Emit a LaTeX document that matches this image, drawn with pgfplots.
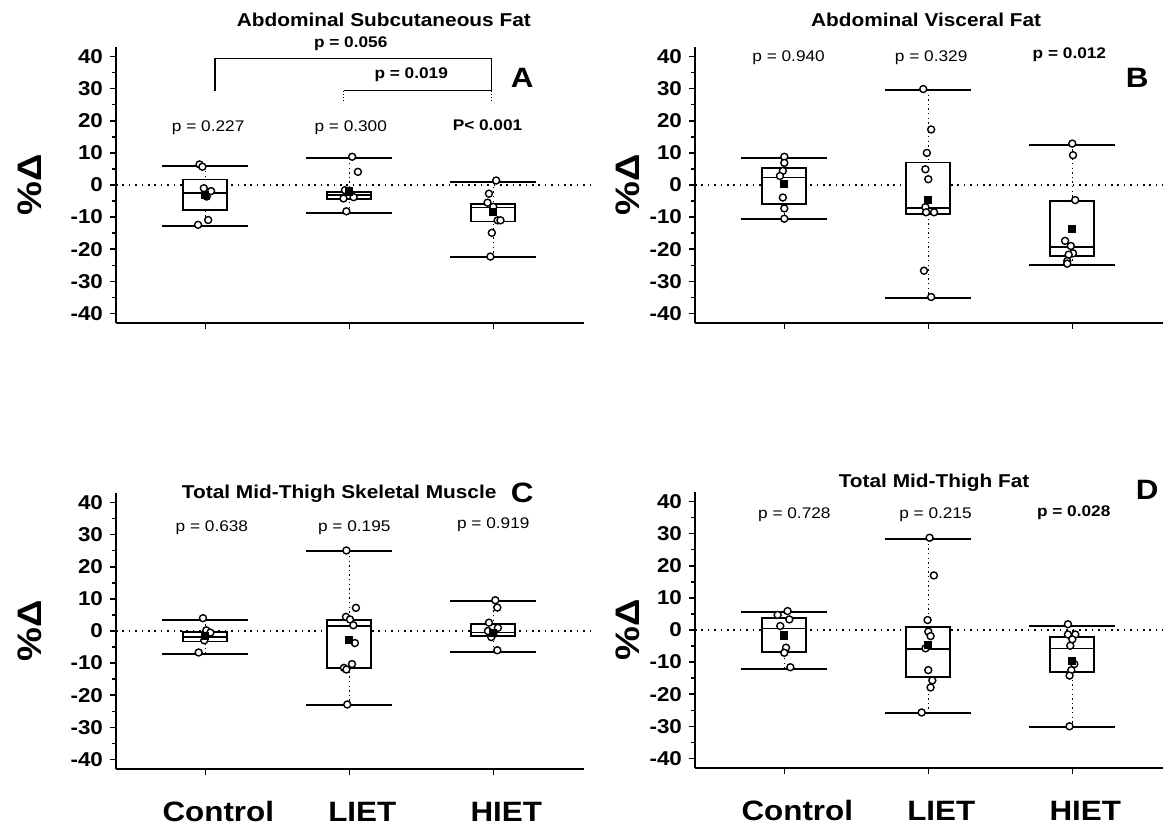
\documentclass[border=0pt]{standalone}
\usepackage{fontspec}
\setmainfont{Liberation Sans}[FakeStretch=1.12]
\usepackage{pgfplots}
\pgfplotsset{compat=1.18}
\usepgfplotslibrary{statistics}

\pgfplotsset{
  panel/.style={
    scale only axis, width=234pt, height=138pt,
    xmin=-0.62, xmax=2.63, ymin=-43, ymax=43,
    axis x line*=bottom, axis y line*=left,
    xtick={0,1,2}, xticklabels={},
    ytick={-40,-30,...,40}, yticklabels={-40,-30,-20,-10,0,10,20,30,40},
    minor y tick num=1, tick align=outside,
    major tick length=3pt, minor tick length=2pt,
    every tick/.style={black, line width=0.7pt},
    axis line style={line width=0.9pt},
    yticklabel style={font=\bfseries\fontsize{10}{12}\selectfont},
    xticklabel style={font=\bfseries\fontsize{14}{17}\selectfont, anchor=base, yshift=-23pt, xshift=6.5pt},
    clip=false,
    ylabel={\%Δ},
    every axis y label/.style={rotate=90, anchor=center, font=\bfseries\fontsize{17}{20}\selectfont},
  },
  boxplot/draw direction=y,
  boxplot/box extend=0.305,
  boxplot/whisker extend=0.6,
  boxplot/every box/.style={fill=white},
  boxplot/draw/lower whisker/.code={%
    \draw[black, line width=0.7pt, dash pattern=on 0.7pt off 1.6pt]
      (boxplot box cs:\pgfplotsboxplotvalue{lower whisker},0.5) -- (boxplot box cs:\pgfplotsboxplotvalue{lower quartile},0.5);
    \draw[black, line width=1pt]
      (boxplot whisker cs:\pgfplotsboxplotvalue{lower whisker},0) -- (boxplot whisker cs:\pgfplotsboxplotvalue{lower whisker},1);
  },
  boxplot/draw/upper whisker/.code={%
    \draw[black, line width=0.7pt, dash pattern=on 0.7pt off 1.6pt]
      (boxplot box cs:\pgfplotsboxplotvalue{upper whisker},0.5) -- (boxplot box cs:\pgfplotsboxplotvalue{upper quartile},0.5);
    \draw[black, line width=1pt]
      (boxplot whisker cs:\pgfplotsboxplotvalue{upper whisker},0) -- (boxplot whisker cs:\pgfplotsboxplotvalue{upper whisker},1);
  },
}
\tikzset{
  pv/.style={font=\fontsize{7.7}{9}\selectfont, inner sep=0pt},
  pvb/.style={font=\bfseries\fontsize{7.7}{9}\selectfont, inner sep=0pt},
  ttl/.style={font=\bfseries\fontsize{9.3}{11}\selectfont, inner sep=0pt},
  letter/.style={font=\bfseries\fontsize{14}{16}\selectfont, inner sep=0pt},
}
% position, lower whisker, lower quartile, median, upper quartile, upper whisker
\newcommand{\bx}[6]{\addplot[black, line width=0.85pt, boxplot prepared={draw position=#1,
  lower whisker=#2, lower quartile=#3, median=#4, upper quartile=#5, upper whisker=#6}] coordinates {};}
\newcommand{\zeroline}{\addplot[black, line width=0.8pt, dash pattern=on 0.8pt off 2.4pt] coordinates {(-0.62,0) (2.67,0)};}
\pgfplotsset{pts/.style={only marks, mark=*, mark size=1.75pt, mark options={draw=black, fill=white, line width=0.7pt}},
  mn/.style={only marks, mark=square*, mark size=1.8pt, black}}

\begin{document}
\begin{tikzpicture}
\useasboundingbox (0,0) rectangle (581.5pt,413pt);

% ---- A ----
\begin{axis}[panel, at={(58pt,251.5pt)}, anchor=south west,
  every axis y label/.append style={at={(axis description cs:-0.185,0.5)}}]
\zeroline
\bx{0}{-12.8}{-7.75}{-2.6}{1.75}{5.8}
\bx{1}{-8.6}{-4.4}{-3.2}{-2.2}{8.3}
\bx{2}{-22.5}{-11.4}{-7.0}{-5.9}{0.9}
\addplot[pts] coordinates {(-0.04,6.4) (-0.02,5.7) (-0.01,-1.0) (0.04,-1.9) (0.01,-3.6) (0.02,-10.9) (-0.05,-12.4)};
\addplot[pts] coordinates {(1.02,8.8) (1.06,4.1) (0.97,-1.6) (0.96,-4.2) (1.03,-3.8) (0.98,-8.2)};
\addplot[pts] coordinates {(2.02,1.4) (1.97,-2.7) (1.96,-5.5) (2.0,-6.8) (2.03,-11.0) (2.05,-11.0) (1.99,-14.9) (1.98,-22.3)};
\addplot[mn] coordinates {(0,-3.0) (1,-2.0) (2,-8.4)};
% comparison brackets
\addplot[black, line width=0.6pt] coordinates {(0.067,29.3) (0.067,39.4) (1.99,39.4) (1.99,29.5)};
\addplot[black, line width=0.6pt] coordinates {(0.96,29.5) (1.99,29.5)};
\addplot[black, line width=0.5pt, densely dotted] coordinates {(0.96,26.2) (0.96,29.5)};
\addplot[black, line width=0.5pt, densely dotted] coordinates {(1.99,26.2) (1.99,29.5)};
\node[ttl] at (axis cs:1.24,51.6) {Abdominal Subcutaneous Fat};
\node[pvb] at (axis cs:1.01,43.9) {p = 0.056};
\node[pvb] at (axis cs:1.43,34.5) {p = 0.019};
\node[letter] at (axis cs:2.2,33.4) {A};
\node[pv] at (axis cs:0.02,17.9) {p = 0.227};
\node[pv] at (axis cs:1.01,17.9) {p = 0.300};
\node[pvb] at (axis cs:1.96,18.7) {P< 0.001};
\end{axis}

% ---- B ----
\begin{axis}[panel, at={(347.5pt,251.5pt)}, anchor=south west,
  every axis y label/.append style={at={(axis description cs:-0.143,0.5)}}]
\zeroline
\bx{0}{-10.7}{-6.0}{2.3}{5.4}{8.3}
\bx{1}{-35.3}{-9.0}{-7.1}{7.0}{29.6}
\bx{2}{-25.0}{-22.1}{-19.3}{-4.9}{12.6}
\addplot[pts] coordinates {(0,8.8) (0,6.9) (-0.01,4.4) (-0.03,2.8) (-0.01,-3.9) (0,-7.3) (0,-10.5)};
\addplot[pts] coordinates {(0.965,29.9) (1.02,17.3) (0.99,10.0) (0.98,4.9) (1.0,1.8) (0.98,-6.9) (0.985,-8.5) (1.04,-8.5) (0.97,-26.7) (1.02,-34.9)};
\addplot[pts] coordinates {(2.0,12.9) (2.005,9.3) (2.02,-4.7) (1.95,-17.4) (1.99,-19.0) (2.005,-21.3) (1.975,-21.7) (1.965,-23.7) (1.965,-24.5)};
\addplot[mn] coordinates {(0,0.4) (1,-4.7) (2,-13.6)};
\node[ttl] at (axis cs:0.985,51.6) {Abdominal Visceral Fat};
\node[pv] at (axis cs:0.03,39.6) {p = 0.940};
\node[pv] at (axis cs:1.02,39.6) {p = 0.329};
\node[pvb] at (axis cs:1.98,40.5) {p = 0.012};
\node[letter] at (axis cs:2.45,33.4) {B};
\end{axis}

% ---- C ----
\begin{axis}[panel, at={(58pt,28.5pt)}, anchor=south west,
  xticklabels={Control,LIET,HIET},
  every axis y label/.append style={at={(axis description cs:-0.185,0.5)}}]
\zeroline
\bx{0}{-7.1}{-3.3}{-1.9}{-0.3}{3.5}
\bx{1}{-23.2}{-11.5}{1.6}{3.5}{24.8}
\bx{2}{-6.4}{-1.6}{-0.5}{2.1}{9.3}
\addplot[pts] coordinates {(-0.016,4.0) (0.007,0.2) (0.035,-0.5) (0,-1.6) (-0.007,-2.9) (-0.046,-6.7)};
\addplot[pts] coordinates {(0.98,25.1) (1.046,7.2) (0.977,4.4) (1.005,3.6) (1.028,1.8) (1.039,-3.75) (1.019,-10.3) (0.963,-11.5) (0.98,-12.0) (0.986,-22.9)};
\addplot[pts] coordinates {(2.014,9.6) (2.028,7.3) (1.97,2.6) (2.032,1.0) (1.963,0) (2.0,-1.0) (1.986,-1.9) (2.028,-6.0)};
\addplot[mn] coordinates {(0,-1.5) (1,-2.7) (2,-0.5)};
\node[ttl] at (axis cs:0.93,42.7) {Total Mid-Thigh Skeletal Muscle};
\node[letter] at (axis cs:2.2,43.2) {C};
\node[pv] at (axis cs:0.046,32.3) {p = 0.638};
\node[pv] at (axis cs:1.035,32.3) {p = 0.195};
\node[pv] at (axis cs:2.0,33.1) {p = 0.919};
\end{axis}

% ---- D ----
\begin{axis}[panel, at={(347.5pt,29pt)}, anchor=south west,
  xticklabels={Control,LIET,HIET},
  every axis y label/.append style={at={(axis description cs:-0.143,0.5)}}]
\zeroline
\bx{0}{-12.0}{-6.8}{0.5}{3.75}{5.5}
\bx{1}{-26.0}{-14.6}{-5.9}{1.0}{28.3}
\bx{2}{-30.3}{-13.1}{-5.8}{-2.1}{1.35}
\addplot[pts] coordinates {(0.023,5.9) (-0.046,4.7) (0.035,3.3) (-0.028,1.25) (0.012,-5.5) (0,-7.1) (0.042,-11.6)};
\addplot[pts] coordinates {(1.009,28.75) (1.039,17.0) (0.995,3.1) (1.0,-0.5) (1.016,-1.9) (0.981,-5.7) (1.0,-12.5) (1.028,-15.7) (1.016,-17.9) (0.954,-25.7)};
\addplot[pts] coordinates {(1.97,1.8) (1.97,-1.4) (2.021,-1.4) (2.0,-2.9) (1.986,-4.9) (2.014,-10.6) (1.993,-12.5) (1.981,-14.2) (1.981,-30.0)};
\addplot[mn] coordinates {(0,-1.7) (1,-4.7) (2,-9.6)};
\node[ttl] at (axis cs:1.04,45.8) {Total Mid-Thigh Fat};
\node[letter] at (axis cs:2.52,43.75) {D};
\node[pv] at (axis cs:0.07,35.9) {p = 0.728};
\node[pv] at (axis cs:1.05,35.9) {p = 0.215};
\node[pvb] at (axis cs:2.01,36.5) {p = 0.028};
\end{axis}
\end{tikzpicture}
\end{document}
